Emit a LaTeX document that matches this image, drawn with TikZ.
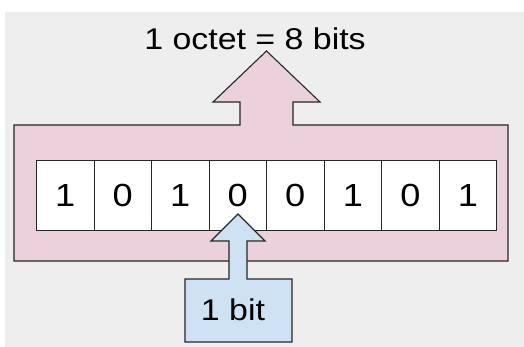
\documentclass[tikz,border=0pt]{standalone}
\usepackage{fontspec}
\setmainfont{Liberation Sans}
\usepackage{xcolor}
\usepackage{tikz}

\definecolor{bggray}{HTML}{EEEEEE}
\definecolor{octetpink}{HTML}{EAD1DC}
\definecolor{bitblue}{HTML}{CFE2F3}
\newcommand{\widetxt}[1]{\scalebox{1.13}[1]{#1}}

\begin{document}
\begin{tikzpicture}[
  x=1pt, y=-1pt,
  outline/.style={draw=black!85, line width=1.1pt},
  bitcell/.style={outline, fill=white, minimum width=57.5pt,
    minimum height=70pt, inner sep=0pt, anchor=north west,
    font=\fontsize{32}{38}\selectfont},
  bigtext/.style={inner sep=0pt, anchor=base,
    font=\fontsize{30}{36}\selectfont}
]

\useasboundingbox (0,0) rectangle (524,347);
\fill [bggray] (5,12) rectangle (524,347);

% the octet frame, with its arrow
\draw [outline, fill=octetpink] (14,125) -- (240,125) -- (240,102)
  -- (213,102) -- (266.5,51) -- (320,102) -- (293,102) -- (293,125)
  -- (508,125) -- (508,261) -- (14,261) -- cycle;

\node [bigtext] (octet) at (255,50) {\widetxt{1 octet = 8 bits}};

% the eight bits
\foreach \b [count=\i from 0] in {1,0,1,0,0,1,0,1}
  \node [bitcell] (bit\i) at ({36+57.5*\i},160) {\widetxt{\b}};

% one bit, with its arrow
\draw [outline, fill=bitblue] (185,279) -- (229,279) -- (229,241)
  -- (211,241) -- (238,214) -- (265,241) -- (247,241) -- (247,279)
  -- (292,279) -- (292,342) -- (185,342) -- cycle;

\node [bigtext] (onebit) at (233,320) {\widetxt{1 bit}};

\end{tikzpicture}
\end{document}
